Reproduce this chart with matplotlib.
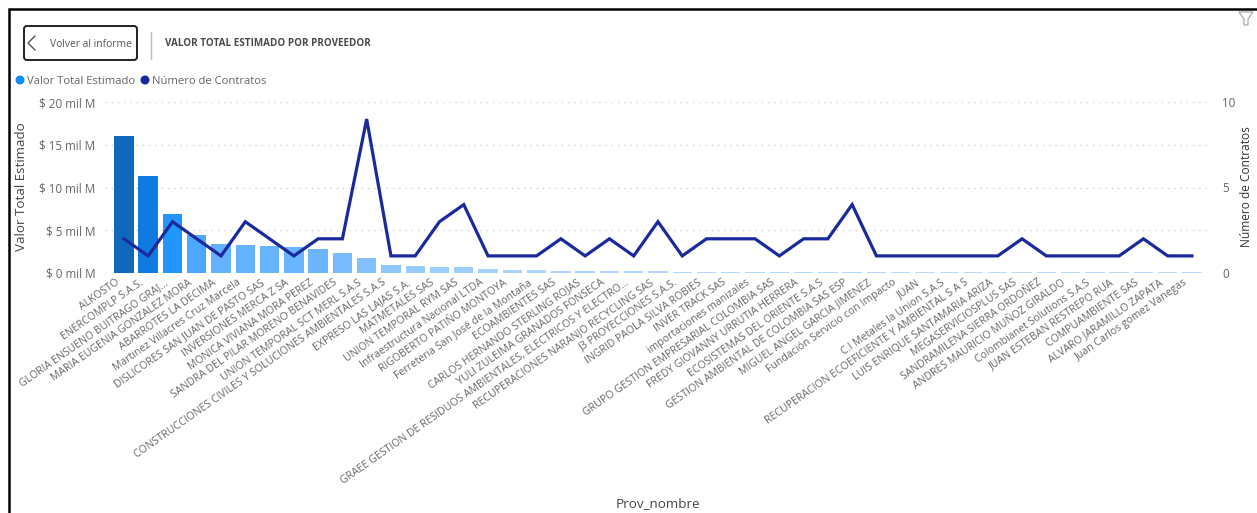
import numpy as np
import matplotlib.pyplot as plt
from matplotlib.colors import LinearSegmentedColormap
from matplotlib.patches import FancyBboxPatch, Polygon
from matplotlib.transforms import ScaledTranslation

plt.rcParams['font.family'] = ['Open Sans', 'DejaVu Sans']

proveedores = [
    "ALKOSTO", "ENERCOMPLP S.A.S.", "GLORIA ENSUENO BUITRAGO GRAJ...",
    "MARIA EUGENIA GONZALEZ MORA", "ABARROTES LA DECIMA",
    "Martinez Villacres Cruz Marcela", "DISLICORES SAN JUAN DE PASTO SAS",
    "INVERSIONES MERCA Z SA", "MONICA VIVIANA MORA PEREZ",
    "SANDRA DEL PILAR MORENO BENAVIDES", "UNION TEMPORAL SCT MERL S.A.S",
    "CONSTRUCCIONES CIVILES Y SOLUCIONES AMBIENTALES S.A.S",
    "EXPRESO LAS LAJAS S.A.", "MATMETALES SAS", "UNION TEMPORAL RYM SAS",
    "Infraestructura Nacional LTDA", "RIGOBERTO PATIÑO MONTOYA",
    "Ferreteria San José de la Montaña", "ECOAMBIENTES SAS",
    "CARLOS HERNANDO STERLING ROJAS", "YULI ZULEIMA GRANADOS FONSECA",
    "GRAEE GESTION DE RESIDUOS AMBIENTALES, ELECTRICOS Y ELECTRO...",
    "RECUPERACIONES NARANJO RECYCLING SAS", "J3 PROYECCIONES S.A.S.",
    "INGRID PAOLA SILVA ROBIES", "INVER TRACK SAS", "importaciones manizales",
    "GRUPO GESTION EMPRESARIAL COLOMBIA SAS", "FREDY GIOVANNY URRUTIA HERRERA",
    "ECOSISTEMAS DEL ORIENTE S.A.S", "GESTION AMBIENTAL DE COLOMBIA SAS ESP",
    "MIGUEL ANGEL GARCIA JIMENEZ", "Fundación Servicio con Impacto", "JUAN",
    "C.I Metales la Union S.A.S", "RECUPERACION ECOEFICIENTE Y AMBIENTAL S A S",
    "LUIS ENRIQUE SANTAMARIA ARIZA", "MEGASERVICIOSPLUS SAS",
    "SANDRAMILENA SIERRA ORDOÑEZ", "ANDRES MAURICIO MUÑOZ GIRALDO",
    "Colombianet Solutions S.A.S", "JUAN ESTEBAN RESTREPO RUA",
    "COMPUAMBIENTE SAS", "ALVARO JARAMILLO ZAPATA", "Juan Carlos gomez Vanegas",
]
valor_total = [
    16.0, 11.4, 6.9, 4.5, 3.35, 3.3, 3.1, 3.0, 2.85, 2.35, 1.7, 0.95, 0.8, 0.7, 0.65,
    0.42, 0.38, 0.3, 0.28, 0.25, 0.22, 0.2, 0.18, 0.17, 0.16, 0.15, 0.15, 0.14, 0.14, 0.13,
    0.13, 0.13, 0.12, 0.12, 0.12, 0.12, 0.11, 0.11, 0.11, 0.11, 0.1, 0.1, 0.1, 0.1, 0.1,
]
num_contratos = [
    2, 1, 3, 2, 1, 3, 2, 1, 2, 2, 9, 1, 1, 3, 4, 1, 1, 1, 2, 1, 2, 1, 3, 1, 2,
    2, 2, 1, 2, 2, 4, 1, 1, 1, 1, 1, 1, 2, 1, 1, 1, 1, 2, 1, 1,
]
ticks_valor = [0, 5, 10, 15, 20]
ticks_contratos = [0, 5, 10]

W, H = 1257, 513
gray = "#666666"

# same blue ramp as the power bi conditional format
ramp = LinearSegmentedColormap.from_list("azul", [
    (0.0, "#B8DBFF"), (0.06, "#8FC7FF"), (0.2, "#66B3FF"), (0.28, "#4DA8FF"),
    (0.43, "#2196FF"), (0.71, "#0F7BE0"), (1.0, "#0F68BA"),
])

fig = plt.figure(figsize=(W / 100, H / 100), dpi=100)
ax = fig.add_axes([105 / W, 1 - 273 / H, (1208 - 105) / W, 171 / H])
x = np.arange(len(proveedores))
colores = ramp(np.array(valor_total) / max(valor_total))
ax.bar(x, valor_total, width=0.8, color=colores, zorder=2)
ax.set_xlim(-0.78, 44.66)
ax.set_ylim(0, 20)
ax.set_yticks(ticks_valor)
ax.set_yticklabels([f"$ {t} mil M" for t in ticks_valor], fontsize=8.4, color=gray)
ax.set_xticks(x)
ax.set_xticklabels(proveedores, rotation=35, ha="right", rotation_mode="anchor",
                   fontsize=7.6, color=gray)
ax.tick_params(axis="both", length=0)
ax.tick_params(axis="x", pad=3)
ax.tick_params(axis="y", pad=7)
# labels end a little left of the bar centre (tick_params resets this, so do it after)
desplazar = ScaledTranslation(-9 / 100, 0, fig.dpi_scale_trans)
for lab in ax.get_xticklabels():
    lab.set_transform(lab.get_transform() + desplazar)
ax.grid(axis="y", color="#C8C8C8", linestyle=(0, (1, 4)), linewidth=0.9, zorder=0)
for s in ax.spines.values():
    s.set_visible(False)

ax2 = ax.twinx()
ax2.plot(x, num_contratos, color="#1A2A9C", linewidth=2.3, solid_joinstyle="miter")
ax2.set_ylim(0, 10)
ax2.set_yticks(ticks_contratos)
ax2.set_yticklabels([str(t) for t in ticks_contratos], fontsize=8.4, color=gray)
ax2.tick_params(axis="y", length=0, pad=10)
for s in ax2.spines.values():
    s.set_visible(False)

# report furniture, in pixel coordinates
ov = fig.add_axes([0, 0, 1, 1], zorder=5)
ov.set_xlim(0, W)
ov.set_ylim(H, 0)
ov.axis("off")
ov.patch.set_alpha(0)

ov.plot([9, 9, W], [H, 9, 9], color="black", linewidth=1.8, solid_joinstyle="miter")
ov.add_patch(FancyBboxPatch((24, 26), 113, 34, boxstyle="round,pad=0,rounding_size=3",
                            facecolor="white", edgecolor="#222222", linewidth=1.4))
ov.plot([35, 28, 35], [36, 43, 50], color="#555555", linewidth=1.0)
ov.text(50, 44.5, "Volver al informe", fontsize=7.4, color="#555555", va="center")
ov.plot([151, 151], [32, 59], color="#BBBBBB", linewidth=1.0)
ov.text(165, 43.5, "VALOR TOTAL ESTIMADO POR PROVEEDOR", fontsize=7.1, fontweight="bold",
        color="#4A4A4A", va="center")

ov.scatter([20, 145], [80, 80], s=42, color=["#118DFF", "#1A2A9C"], linewidths=0)
ov.text(27, 81, "Valor Total Estimado", fontsize=8.1, color=gray, va="center")
ov.text(152, 81, "Número de Contratos", fontsize=8.1, color=gray, va="center")

ov.text(22, 187, "Valor Total Estimado", fontsize=9.6, color="#444444", rotation=90,
        ha="center", va="center")
ov.text(1247, 187, "Número de Contratos", fontsize=8.6, color="#333333", rotation=90,
        ha="center", va="center")
ov.text(658, 504, "Prov_nombre", fontsize=9.7, color="#444444", ha="center", va="center")

ov.add_patch(Polygon([(1239, 12), (1253, 12), (1248, 19), (1248, 25), (1244, 25), (1244, 19)],
                     closed=True, facecolor="white", edgecolor="#AAAAAA", linewidth=0.9))

fig.savefig("out.png", dpi=100, facecolor="white")
